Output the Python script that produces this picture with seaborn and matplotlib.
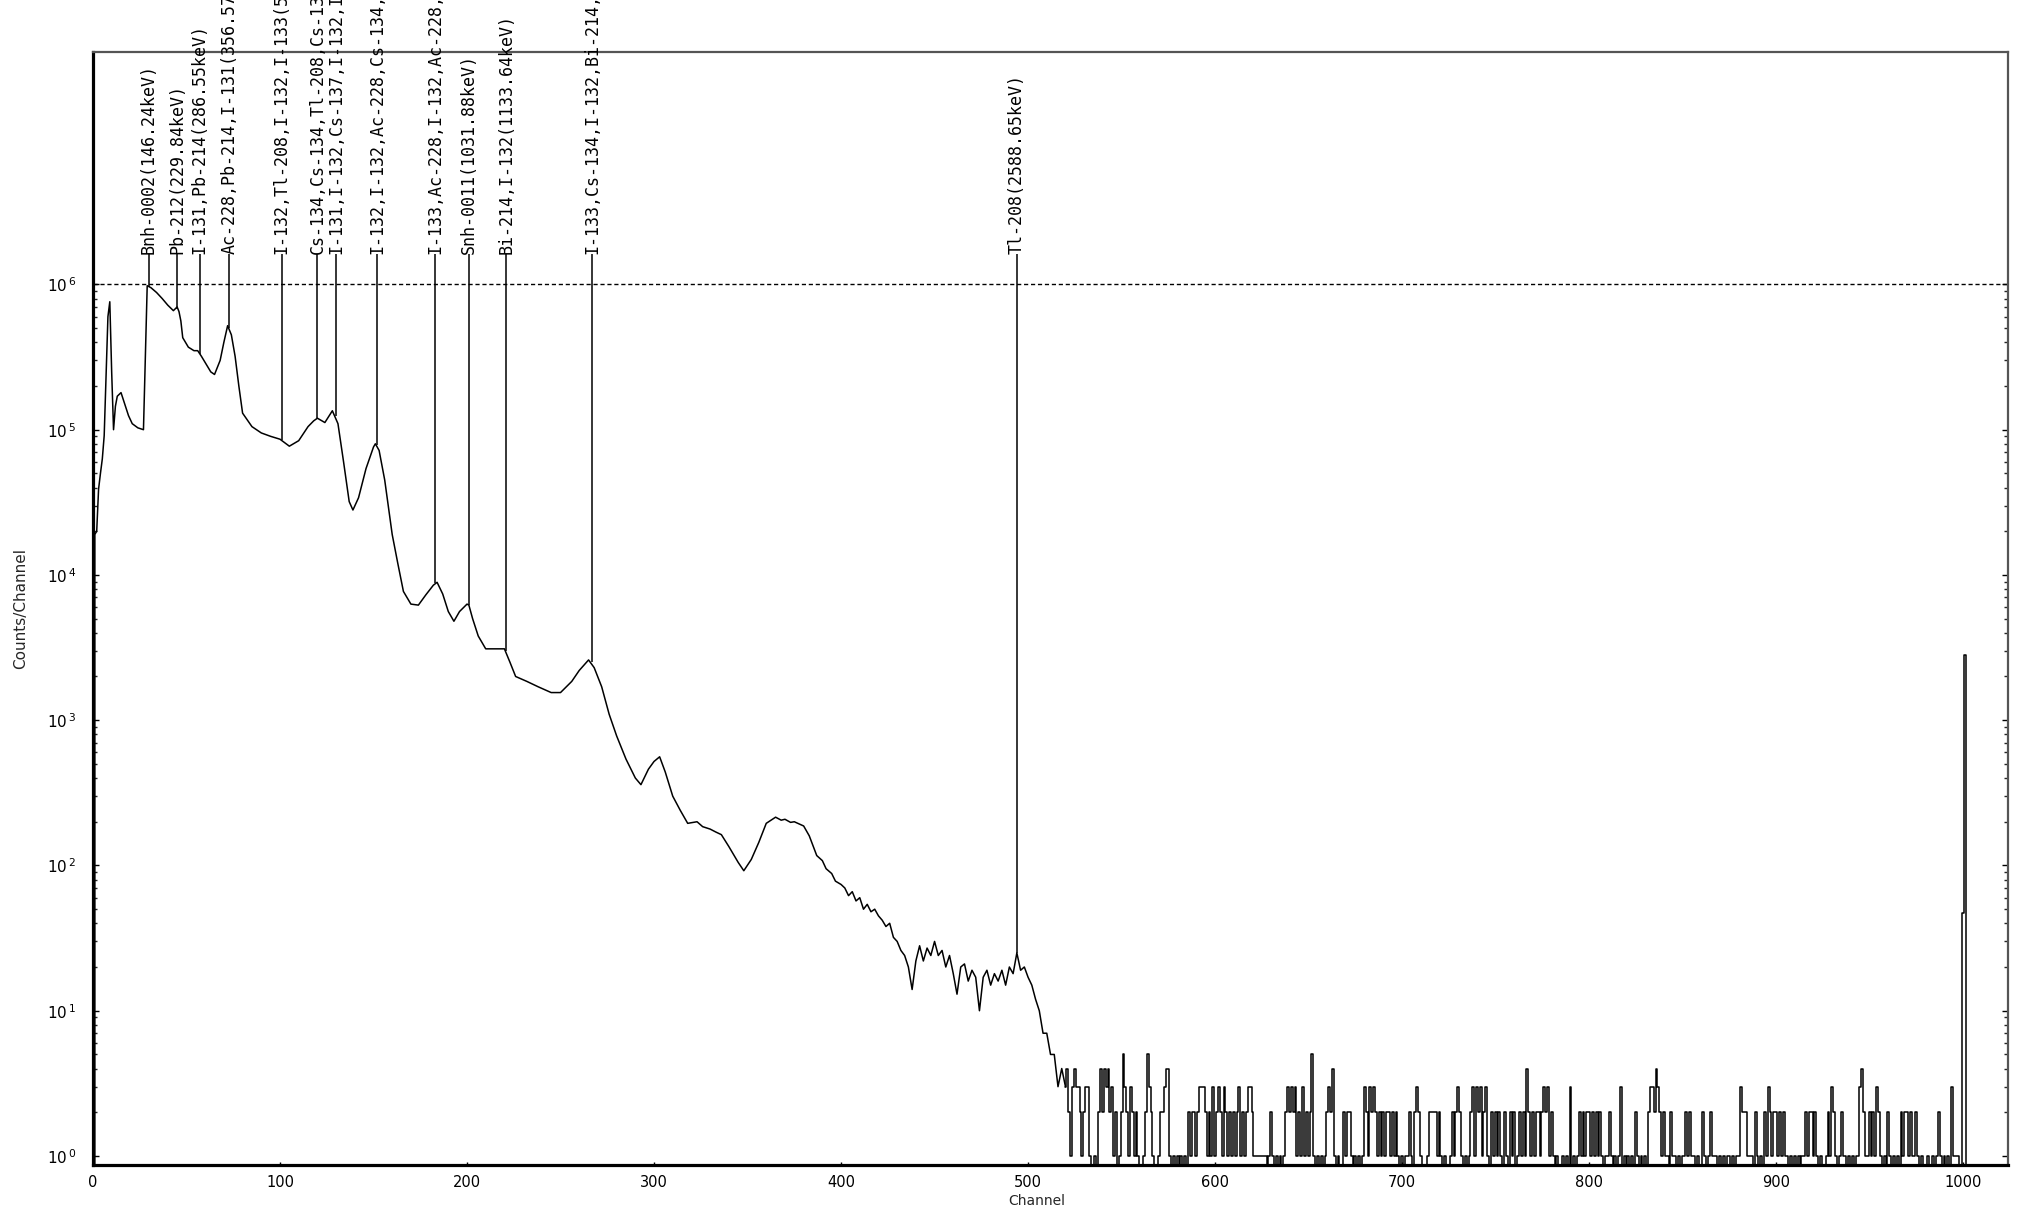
import matplotlib
matplotlib.use("Agg")
import matplotlib.pyplot as plt
import seaborn as sns
from matplotlib.ticker import FixedLocator, NullFormatter

# main part of the spectrum (channel, counts)
ch_main = [0, 1, 2, 3, 4, 5, 6, 7, 8, 9, 10, 11, 12, 13, 15, 17, 19, 21, 24, 27, 28, 29,
           31, 34, 37, 40, 43, 45, 46, 47, 48, 51, 54, 56, 58, 60, 63, 65, 68, 70, 72, 74,
           76, 78, 80, 85, 90, 95, 100, 105, 110, 115, 118, 120, 124, 128, 131, 134, 137,
           139, 142, 146, 150, 151, 153, 156, 160, 163, 166, 170, 174, 178, 182, 184, 187,
           190, 193, 196, 200, 201, 203, 206, 210, 215, 220, 223, 226, 232, 238, 245, 250,
           256, 260, 265, 268, 272, 276, 280, 285, 290, 293, 297, 300, 303, 306, 310, 314,
           318, 323, 326, 330, 333, 336, 340, 345, 348, 352, 356, 360, 365, 368, 370, 373,
           375, 378, 380, 383, 387, 390, 392, 395, 397, 400,
           402, 404, 406, 408, 410, 412, 414, 416, 418, 420, 422, 424, 426, 428, 430, 432,
           434, 436, 438, 440, 442, 444, 446, 448, 450, 452, 454, 456, 458, 460, 462, 464,
           466, 468, 470, 472, 474, 476, 478, 480, 482, 484, 486, 488, 490, 492, 494, 496,
           498, 500, 502, 504, 506, 508, 510, 512, 514, 516, 518, 520]
counts_main = [0, 1.9e4, 2.0e4, 3.9e4, 5.0e4, 6.3e4, 9.1e4, 2.3e5, 6.0e5, 7.6e5, 2.5e5, 1.0e5,
               1.45e5, 1.7e5, 1.8e5, 1.5e5, 1.25e5, 1.1e5, 1.03e5, 1.0e5, 3.1e5, 9.8e5,
               9.5e5, 8.8e5, 8.0e5, 7.2e5, 6.6e5, 7.0e5, 6.5e5, 5.6e5, 4.3e5, 3.7e5, 3.5e5,
               3.5e5, 3.2e5, 2.9e5, 2.5e5, 2.4e5, 3.0e5, 4.0e5, 5.2e5, 4.5e5,
               3.2e5, 2.0e5, 1.3e5, 1.05e5, 9.5e4, 9.0e4, 8.6e4, 7.7e4, 8.4e4, 1.05e5, 1.15e5,
               1.2e5, 1.12e5, 1.35e5, 1.1e5, 6.0e4, 3.2e4,
               2.8e4, 3.4e4, 5.4e4, 7.6e4, 8.0e4, 7.2e4, 4.5e4, 1.9e4, 1.2e4, 7.7e3, 6.3e3,
               6.2e3, 7.3e3, 8.5e3, 8.9e3, 7.4e3,
               5.6e3, 4.8e3, 5.6e3, 6.3e3, 6.2e3, 5.0e3, 3.8e3, 3.1e3, 3.1e3, 3.1e3, 2.5e3,
               2.0e3, 1.85e3, 1.7e3, 1.55e3, 1.55e3,
               1.85e3, 2.2e3, 2.6e3, 2.3e3, 1.7e3, 1.1e3, 780, 540, 400, 360, 460, 520, 560,
               440, 300, 240,
               195, 200, 185, 178, 170, 163, 135, 105, 92, 110, 144, 195, 215, 205, 208, 198,
               200, 192, 187, 160, 117, 108, 95, 88, 78, 74,
               70, 62, 66, 57, 60, 50, 54, 48, 50, 45, 42, 38, 40, 32, 30, 26,
               24, 20, 14, 22, 28, 22, 27, 24, 30, 24, 26, 20, 24, 18, 13, 20,
               21, 16, 19, 17, 10, 17, 19, 15, 18, 16, 19, 15, 20, 18, 25, 19,
               20, 17, 15, 12, 10, 7, 7, 5, 5, 3, 4, 3]

# noisy tail, one value per channel from 520 to 1023
noise_start = 520
counts_tail = [
    3, 4, 2, 1, 3, 4, 3, 3, 2, 1,   2, 3, 3, 1, 0, 0, 1, 0, 2, 4,
    2, 4, 3, 4, 2, 3, 1, 2, 0, 1,   2, 5, 3, 2, 1, 3, 2, 1, 2, 1,
    0, 0, 1, 2, 5, 3, 2, 1, 0, 0,   1, 2, 2, 3, 4, 4, 1, 0, 1, 0,
    1, 0, 1, 0, 1, 0, 2, 1, 2, 2,   1, 2, 3, 3, 3, 2, 1, 2, 1, 3,
    1, 2, 3, 2, 1, 3, 2, 1, 2, 1,   2, 1, 2, 3, 1, 2, 1, 2, 3, 3,
    2, 1, 1, 1, 1, 1, 1, 1, 0, 1,   2, 1, 0, 1, 0, 1, 0, 1, 2, 3,
    2, 3, 2, 3, 1, 2, 1, 3, 1, 2,   1, 2, 5, 1, 0, 1, 0, 1, 0, 1,
    2, 3, 2, 4, 1, 0, 1, 0, 0, 2,   1, 2, 2, 1, 0, 1, 0, 1, 0, 1,
    3, 2, 1, 3, 2, 3, 2, 1, 2, 1,   2, 1, 2, 2, 1, 2, 1, 2, 1, 0,
    1, 0, 1, 1, 2, 1, 0, 2, 3, 2,   1, 0, 0, 0, 1, 2, 2, 2, 2, 1,
    2, 1, 0, 1, 0, 0, 1, 2, 1, 2,   3, 2, 1, 0, 1, 0, 1, 2, 3, 1,
    3, 2, 3, 1, 2, 3, 1, 0, 2, 1,   2, 1, 2, 1, 0, 2, 1, 0, 2, 1,
    2, 0, 1, 2, 1, 2, 1, 4, 2, 1,   2, 1, 2, 2, 1, 2, 3, 2, 3, 1,
    2, 1, 0, 1, 0, 0, 1, 0, 1, 0,   3, 0, 1, 0, 1, 2, 1, 2, 1, 2,
    2, 1, 2, 1, 2, 1, 2, 1, 0, 1,   1, 2, 1, 0, 1, 0, 1, 3, 0, 1,
    0, 1, 0, 1, 0, 2, 1, 0, 1, 0,   1, 0, 2, 3, 3, 2, 4, 3, 2, 1,
    2, 1, 1, 0, 2, 1, 1, 0, 1, 0,   1, 1, 2, 1, 2, 1, 1, 0, 1, 0,
    0, 2, 1, 0, 1, 2, 1, 1, 1, 0,   1, 0, 1, 0, 1, 1, 0, 1, 0, 1,
    1, 3, 2, 2, 2, 1, 1, 1, 0, 2,   1, 0, 1, 0, 2, 1, 3, 2, 1, 2,
    2, 1, 2, 1, 2, 1, 1, 0, 1, 0,   1, 0, 1, 0, 1, 1, 2, 1, 2, 2,
    1, 2, 1, 0, 1, 0, 0, 1, 2, 1,   3, 2, 1, 0, 1, 2, 1, 1, 0, 1,
    0, 1, 0, 1, 1, 3, 4, 2, 1, 1,   2, 1, 2, 1, 3, 2, 1, 0, 1, 0,
    2, 1, 0, 1, 0, 1, 0, 2, 1, 2,   2, 1, 2, 1, 1, 2, 1, 0, 1, 0,
    0, 1, 0, 0, 1, 0, 1, 2, 1, 0,   1, 0, 1, 0, 3, 1, 1, 1, 0, 0,
    47, 2800, 0, 0, 0, 0, 0, 0, 0, 0, 0, 0, 0, 0, 0, 0, 0, 0, 0, 0, 0, 0, 0, 0]
ch_tail = list(range(noise_start, noise_start + len(counts_tail)))

# peak identifications
peak_channels = [30, 45, 57, 73, 101, 120, 130, 152, 183, 201, 221, 267, 494]
peak_counts = [9.6e5, 6.8e5, 3.3e5, 5.0e5, 8.5e4, 1.2e5, 1.25e5, 7.8e4, 8.8e3, 6.2e3, 3.0e3, 2.5e3, 25]
peak_labels = [
    "Bnh-0002(146.24keV)",
    "Pb-212(229.84keV)",
    "I-131,Pb-214(286.55keV)",
    "Ac-228,Pb-214,I-131(356.57keV)",
    "I-132,Tl-208,I-132,I-133(510.88keV)",
    "Cs-134,Cs-134,Tl-208,Cs-134(569.33keV)",
    "I-131,I-132,Cs-137,I-132,I-132(661.66keV)",
    "I-132,I-132,Ac-228,Cs-134,Cs-134(795.86keV)",
    "I-133,Ac-228,I-132,Ac-228,Ac-228(911.20keV)",
    "Snh-0011(1031.88keV)",
    "Bi-214,I-132(1133.64keV)",
    "I-133,Cs-134,I-132,Bi-214,I-132(1294.84keV)",
    "Tl-208(2588.65keV)",
]

y_ticks = [1, 10, 100, 1000, 10000, 100000, 1000000]
x_ticks = [0, 100, 200, 300, 400, 500, 600, 700, 800, 900, 1000]

sns.set_theme(style="white")
plt.rcParams["font.family"] = ["DejaVu Sans"]

fig = plt.figure(figsize=(20.21, 12.10), dpi=100)
ax = fig.add_axes([0.046, 0.0372, 0.9476, 0.9198])

sns.lineplot(x=ch_main, y=counts_main, ax=ax, color="black", lw=1.1, estimator=None, sort=False)
sns.lineplot(x=ch_tail, y=counts_tail, ax=ax, color="black", lw=1.1, estimator=None,
             drawstyle="steps-mid")

ax.set_yscale("log", nonpositive="clip")
ax.set_xlim(0, 1024)
ax.set_ylim(10 ** -0.062, 10 ** 7.6)

# dashed reference line at 1e6
ax.axhline(1e6, color="black", lw=1, ls=(0, (3, 2)))

# peak markers with rotated labels (cut by the top edge, as in the original)
label_top = 1.62e6
ax.vlines(peak_channels, peak_counts, label_top, color="black", lw=1.1)
for cx, txt in zip(peak_channels, peak_labels):
    ax.text(cx, label_top, txt, rotation=90, ha="center", va="bottom",
            fontsize=12, family="DejaVu Sans Mono", color="black", clip_on=False)

# axes styling
ax.set_yticks(y_ticks)
ax.set_yticklabels([r"$10^{\,%d}$" % i for i in range(len(y_ticks))])
ax.yaxis.set_minor_locator(FixedLocator([m * 10 ** k for k in range(6) for m in range(2, 10)]))
ax.yaxis.set_minor_formatter(NullFormatter())
ax.set_xticks(x_ticks)
ax.set_xticklabels([str(v) for v in x_ticks])

ax.tick_params(axis="y", which="major", direction="in", length=4.5, width=1, left=True,
               right=True, labelsize=11, pad=12, colors="black")
ax.tick_params(axis="y", which="minor", direction="in", length=2.8, width=1, left=True,
               right=True)
ax.tick_params(axis="x", which="major", direction="in", length=2.5, width=1, bottom=True,
               labelsize=10.5, pad=7, colors="black")

for side in ["left", "bottom"]:
    ax.spines[side].set_linewidth(2.3)
    ax.spines[side].set_color("black")
for side in ["top", "right"]:
    ax.spines[side].set_linewidth(1.6)
    ax.spines[side].set_color("#555555")

ax.set_xlabel("Channel", fontsize=10)
ax.xaxis.set_label_coords(0.493, -0.026)
ax.set_ylabel("Counts/Channel", fontsize=11)
ax.yaxis.set_label_coords(-0.034, 0.5)

fig.savefig("out.png", dpi=100)
